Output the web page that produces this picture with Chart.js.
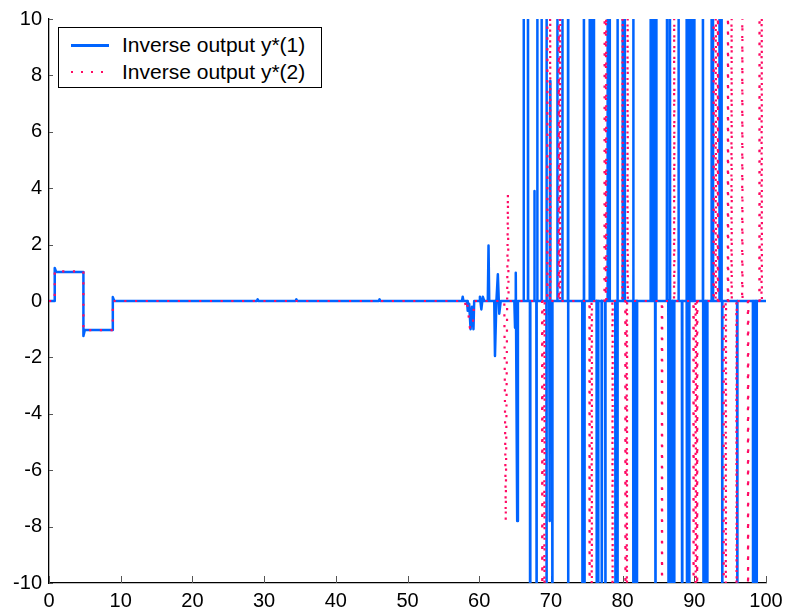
<!DOCTYPE html>
<html>
<head>
<meta charset="utf-8">
<script src="https://cdn.jsdelivr.net/npm/chart.js@4.4.1/dist/chart.umd.min.js"></script>
<style>
html, body { margin: 0; padding: 0; background: #fff; }
#wrap { position: relative; width: 789px; height: 614px; }
#legend {
  position: absolute; left: 58px; top: 27px; width: 264px; height: 61px;
  box-sizing: border-box; border: 1.3px solid #000; background: #fff;
  font: 21px "Liberation Sans", Arial, sans-serif; color: #000;
}
#legend .row { position: absolute; left: 0; right: 0; height: 26px; }
#legend .sample { position: absolute; left: 12px; width: 38px; top: 12px; height: 2.5px; }
#legend .label { position: absolute; left: 63px; top: 0; line-height: 26px; white-space: nowrap; }
</style>
</head>
<body>
<div id="wrap">
  <canvas id="lineChart" width="789" height="614"></canvas>
  <div id="legend">
    <div class="row" style="top:4px">
      <div class="sample" style="background:#0064ff"></div>
      <div class="label">Inverse output y*(1)</div>
    </div>
    <div class="row" style="top:31px">
      <div class="sample" style="height:2px;background:repeating-linear-gradient(90deg,#ff0a64 0 2px,transparent 2px 10px)"></div>
      <div class="label">Inverse output y*(2)</div>
    </div>
  </div>
</div>
<script>
// tick labels
var xTicks = [0, 10, 20, 30, 40, 50, 60, 70, 80, 90, 100];
var yTicks = [-10, -8, -6, -4, -2, 0, 2, 4, 6, 8, 10];

// y*(1): slow part of the signal (time, value)
var t1Base = [0, 0.8, 0.8, 1.0, 4.8, 4.8, 5.0, 8.9, 8.9, 9.1, 29.0, 29.1, 29.2, 34.4, 34.5, 34.6, 46.0, 46.1, 46.2,
  57.6, 57.7, 57.8, 58.3, 58.4, 58.6, 58.8, 59.0, 59.2, 59.3, 60.0, 60.1, 60.3, 60.5, 60.7, 61.2, 61.3, 61.4,
  62.1, 62.2, 62.4, 62.6, 62.8, 63.0, 64.9, 65.0, 65.1, 65.3, 65.4, 100];
var y1Base = [0, 0, 1.17, 1.03, 1.03, -1.24, -1.03, -1.03, 0.14, 0, 0, 0.06, 0, 0, 0.06, 0, 0, 0.06, 0,
  0, 0.15, 0, 0, -0.35, -0.1, -1.0, -0.2, -1.0, 0, 0, 0.15, -0.3, 0.15, 0, 0, 1.97, 0,
  0, -1.95, 0, 0.95, -0.45, 0, 0, -0.95, 1.0, -7.8, 0, 0];
// y*(1): spikes after t=66 (values beyond +-10 are cut by the axes)
var t1Spike = [66.2, 66.8, 67.7, 68.1, 68.7, 69.4, 69.9, 70.9, 71.6, 72.4, 74.6, 75.4, 75.7, 76.0, 77.9, 78.2,
  79.3, 80.0, 80.3, 81.5, 83.9, 84.2, 84.5, 84.7, 86.2, 86.6, 87.8, 88.9, 89.2, 89.5, 89.7, 90.0, 91.2, 92.4,
  92.6, 93.5, 93.8,
  67.1, 68.0, 69.4, 69.8, 70.2, 72.4, 74.4, 74.7, 76.4, 76.6, 77.1, 77.6, 79.0, 79.3, 81.5, 81.8, 82.0, 84.6,
  86.4, 86.7, 87.0, 87.2, 88.3, 89.0, 89.3, 91.3, 91.6, 91.8, 93.9, 96.0, 98.2, 98.5, 98.7];
var y1Spike = [15, 15, 3.9, 15, 15, 15, 7.8, 15, 15, 15, 15, 15, 15, 15, 15, 15,
  15, 15, 15, 15, 15, 15, 15, 15, 15, 15, 15, 15, 15, 15, 15, 15, 15, 15,
  15, 15, 15,
  -15, -15, -15, -7.8, -15, -15, -15, -15, -15, -15, -15, -15, -15, -15, -15, -15, -15, -15,
  -15, -15, -15, -15, -15, -15, -15, -15, -15, -15, -15, -15, -15, -15, -15];

// y*(2)
var t2Base = [0, 0.8, 0.8, 4.8, 4.8, 8.9, 8.9, 58.0, 58.1, 58.3, 58.7, 59.1, 59.3, 63.5, 63.7, 63.9, 64.0, 64.1, 100];
var y2Base = [0, 0, 1.05, 1.05, -1.03, -1.03, 0, 0, -0.15, 0, -0.95, -0.95, 0, 0, -7.8, 0, 3.8, 0, 0];
var t2Spike = [69.5, 69.9, 71.1, 71.3, 77.5, 77.7, 80.0, 80.7, 87.2, 92.7, 93.0, 93.3, 94.7, 95.2, 96.7, 99.1, 99.4,
  68.8, 69.1, 75.4, 75.7, 78.6, 80.4, 80.6, 85.5, 89.9, 90.2, 90.4, 94.1, 94.4, 95.9, 97.5];
var y2Spike = [15, 15, 15, 15, 15, 15, 15, 15, 15, 15, 15, 15, 15, 15, 15, 15, 15,
  -15, -15, -15, -15, -15, -15, -15, -15, -15, -15, -15, -15, -15, -15, -15];

function buildPoints(bx, by, sx, sy) {
  var pts = bx.map(function (x, i) { return {x: x, y: by[i]}; });
  sx.forEach(function (x, i) {
    pts.push({x: x - 0.03, y: 0}, {x: x, y: sy[i]}, {x: x + 0.03, y: 0});
  });
  return pts.sort(function (a, b) { return a.x - b.x; });
}

// ticks pointing into the plot, like the original figure
var innerTicks = {
  id: 'innerTicks',
  beforeDatasetsDraw: function (chart) {
    var ctx = chart.ctx, a = chart.chartArea, sx = chart.scales.x, sy = chart.scales.y;
    ctx.save();
    ctx.strokeStyle = '#555';
    ctx.lineWidth = 1;
    ctx.beginPath();
    xTicks.forEach(function (v) {
      var p = Math.round(sx.getPixelForValue(v)) + 0.5;
      ctx.moveTo(p, a.bottom);
      ctx.lineTo(p, a.bottom - 7);
    });
    yTicks.forEach(function (v) {
      var p = Math.round(sy.getPixelForValue(v)) + 0.5;
      ctx.moveTo(a.left, p);
      ctx.lineTo(a.left + 4, p);
    });
    ctx.stroke();
    ctx.restore();
  }
};

var tickFont = {family: '"Liberation Sans", Arial, sans-serif', size: 20};

var ctxL = document.getElementById('lineChart').getContext('2d');
var myLineChart = new Chart(ctxL, {
  type: 'line',
  data: {
    datasets: [{
        label: 'Inverse output y*(1)',
        data: buildPoints(t1Base, y1Base, t1Spike, y1Spike),
        borderColor: '#0064ff',
        borderWidth: 2.5,
        borderJoinStyle: 'round',
        pointRadius: 0,
        tension: 0,
        clip: 0,
        order: 2
      },
      {
        label: 'Inverse output y*(2)',
        data: buildPoints(t2Base, y2Base, t2Spike, y2Spike),
        borderColor: '#ff0a64',
        borderWidth: 2.2,
        borderDash: [2.2, 8.5],
        borderJoinStyle: 'round',
        pointRadius: 0,
        tension: 0,
        clip: 0,
        order: 1
      }
    ]
  },
  options: {
    responsive: false,
    animation: false,
    devicePixelRatio: 1,
    layout: {padding: {left: 0, right: 23, top: 18, bottom: 0}},
    plugins: {legend: {display: false}, tooltip: {enabled: false}},
    scales: {
      x: {
        type: 'linear',
        min: 0,
        max: 100,
        afterBuildTicks: function (s) { s.ticks = xTicks.map(function (v) { return {value: v}; }); },
        ticks: {font: tickFont, color: '#000', padding: 6, maxRotation: 0, autoSkip: false},
        grid: {display: false, drawTicks: false},
        border: {display: true, color: '#000', width: 1.3},
        afterFit: function (s) { s.height = 31; }
      },
      y: {
        min: -10,
        max: 10,
        afterBuildTicks: function (s) { s.ticks = yTicks.map(function (v) { return {value: v}; }); },
        ticks: {font: tickFont, color: '#000', padding: 7},
        grid: {display: false, drawTicks: false},
        border: {display: true, color: '#000', width: 1.3},
        afterFit: function (s) { s.width = 49; }
      }
    }
  },
  plugins: [innerTicks]
});
</script>
</body>
</html>
